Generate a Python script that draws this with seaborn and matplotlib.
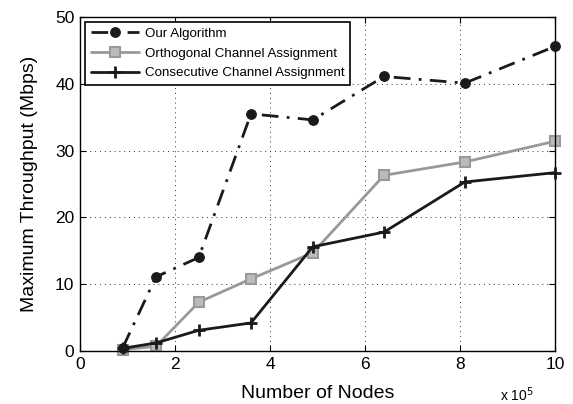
import matplotlib
matplotlib.use("Agg")
import matplotlib.pyplot as plt
import seaborn as sns
import pandas as pd

nodes = [0.9, 1.6, 2.5, 3.6, 4.9, 6.4, 8.1, 10.0]  # x 10^5
our_alg = [0.5, 11.1, 14.0, 35.5, 34.6, 41.1, 40.1, 45.6]
orthogonal = [0.2, 0.7, 7.3, 10.8, 14.7, 26.3, 28.3, 31.4]
consecutive = [0.4, 1.2, 3.1, 4.2, 15.6, 17.8, 25.3, 26.7]
labels = ["Our Algorithm", "Orthogonal Channel Assignment", "Consecutive Channel Assignment"]

sns.set_style("white")
plt.rcParams['font.family'] = ['Liberation Sans', 'DejaVu Sans']
plt.rcParams['text.color'] = 'black'
plt.rcParams['axes.labelcolor'] = 'black'
plt.rcParams['xtick.color'] = 'black'
plt.rcParams['ytick.color'] = 'black'

fig = plt.figure(figsize=(5.73, 4.04), dpi=100)
ax = fig.add_axes([0.1396, 0.1312, 0.829, 0.8267])

df1 = pd.DataFrame({"x": nodes, "y": our_alg})
df2 = pd.DataFrame({"x": nodes, "y": orthogonal})
df3 = pd.DataFrame({"x": nodes, "y": consecutive})

sns.lineplot(data=df1, x="x", y="y", ax=ax, color="#1a1a1a", lw=2, linestyle=(0, (6, 3, 1, 3)),
             marker="o", markersize=7, markerfacecolor="#1a1a1a", markeredgecolor="#1a1a1a",
             label=labels[0], zorder=3, clip_on=False)
sns.lineplot(data=df2, x="x", y="y", ax=ax, color="#999999", lw=2, marker="s", markersize=6.5,
             markerfacecolor="#bbbbbb", markeredgecolor="#999999", markeredgewidth=1.5,
             label=labels[1], zorder=2, clip_on=False)
sns.lineplot(data=df3, x="x", y="y", ax=ax, color="#1a1a1a", lw=2, marker="+", markersize=9,
             markeredgewidth=2, markeredgecolor="#1a1a1a", label=labels[2], zorder=4, clip_on=False)

ax.set_xlim(0, 10)
ax.set_ylim(0, 50)
ax.set_xticks([0, 2, 4, 6, 8, 10])
ax.set_yticks([0, 10, 20, 30, 40, 50])
ax.tick_params(axis="both", direction="in", length=4, labelsize=12.5, top=True, right=True,
               bottom=True, left=True, color="black", width=0.8, pad=4)
ax.grid(True, linestyle=(0, (1, 4)), color="#333333", linewidth=0.7)
for s in ax.spines.values():
    s.set_color("black")
    s.set_linewidth(1.0)
ax.set_xlabel("Number of Nodes", fontsize=14, labelpad=10)
ax.set_ylabel("Maximum Throughput (Mbps)", fontsize=14, labelpad=12)
ax.text(0.955, -0.13, r"x 10$^5$", transform=ax.transAxes, fontsize=10, ha="right", va="center")

leg = ax.legend(loc="upper left", bbox_to_anchor=(0.0, 1.0), fontsize=9.6, frameon=True,
                fancybox=False, edgecolor="black", framealpha=1, handlelength=3.6,
                borderpad=0.4, labelspacing=0.55, borderaxespad=0.4, handletextpad=0.45)
leg.get_frame().set_linewidth(1.2)

fig.savefig("out.png", dpi=100)
